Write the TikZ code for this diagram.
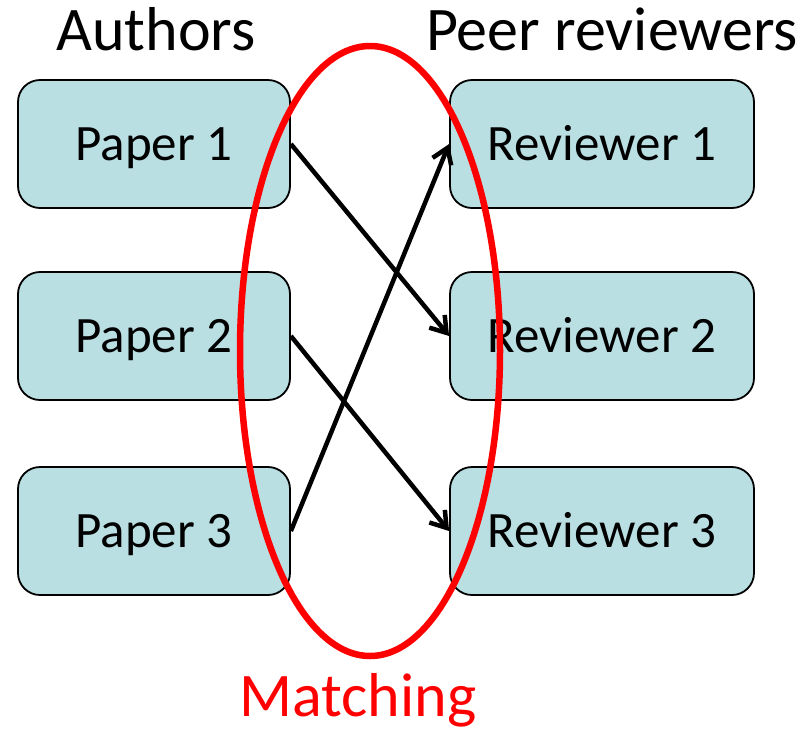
\documentclass[tikz,border=0pt]{standalone}
\usepackage{fontspec}
\setmainfont{Carlito}
\usetikzlibrary{arrows.meta}
\definecolor{boxfill}{RGB}{185,223,227}
\tikzset{
  card/.style={draw, line width=1.8pt, fill=boxfill, rounded corners=22pt,
    inner sep=0pt, text height=33pt, text depth=0pt,
    font=\fontsize{51}{60}\selectfont},
  link/.style={line width=4.5pt, -{Straight Barb[length=15pt,width=20pt]}},
  heading/.style={anchor=base, font=\fontsize{62}{72}\selectfont}
}
\begin{document}
\begin{tikzpicture}[x=1pt,y=-1pt]
    \useasboundingbox (0,0) rectangle (809,732);
    \node[heading] (authors) at (156,50) {Authors};
    \node[heading] (peers) at (612,50) {Peer reviewers};

    \node[card, minimum width=272pt, minimum height=128pt] (paper1) at (154,144) {Paper 1};
    \node[card, minimum width=272pt, minimum height=128pt] (paper2) at (154,336) {Paper 2};
    \node[card, minimum width=272pt, minimum height=128pt] (paper3) at (154,531) {Paper 3};

    \node[card, minimum width=304pt, minimum height=128pt] (rev1) at (602,144) {Reviewer 1};
    \node[card, minimum width=304pt, minimum height=128pt] (rev2) at (602,336) {Reviewer 2};
    \node[card, minimum width=304pt, minimum height=128pt] (rev3) at (602,531) {Reviewer 3};

    \draw[link] (paper1.east) -- (rev2.west);
    \draw[link] (paper2.east) -- (rev3.west);
    \draw[link] (paper3.east) -- (rev1.west);

    \draw[red, line width=6.5pt] (370,351) ellipse (130 and 305);
    \node[heading, text=red] (matching) at (358,716) {Matching};
\end{tikzpicture}
\end{document}
